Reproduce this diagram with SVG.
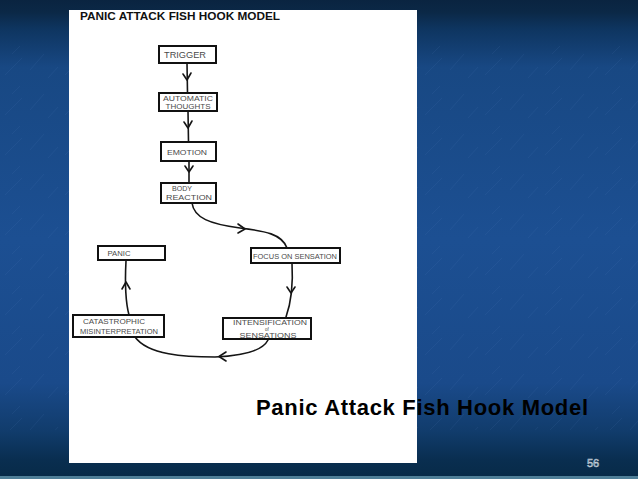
<svg xmlns="http://www.w3.org/2000/svg" width="638" height="479" viewBox="0 0 638 479">
  <defs>
    <linearGradient id="bg" x1="0" y1="0" x2="0" y2="1">
      <stop offset="0" stop-color="#0a2440"/>
      <stop offset="0.025" stop-color="#0b2846"/>
      <stop offset="0.06" stop-color="#0e3560"/>
      <stop offset="0.14" stop-color="#184883"/>
      <stop offset="0.5" stop-color="#1c4f92"/>
      <stop offset="0.8" stop-color="#1a4a8a"/>
      <stop offset="0.9" stop-color="#113c6c"/>
      <stop offset="0.96" stop-color="#092e50"/>
      <stop offset="1" stop-color="#072a47"/>
    </linearGradient>
    <pattern id="streaks" width="60" height="40" patternUnits="userSpaceOnUse">
      <path d="M5,35 L22,18 M30,30 L44,14 M48,38 L58,27 M12,14 L20,6" stroke="#5c86c4" stroke-width="1" opacity="0.35" fill="none"/>
    </pattern>
    <style>
      .box { fill: #ffffff; stroke: #111111; stroke-width: 2; }
      .lbl { font-family: "Liberation Sans", "DejaVu Sans", sans-serif; fill: #4a4a4a; text-anchor: middle; }
      .con { fill: none; stroke: #151515; stroke-width: 1.6; stroke-linecap: round; stroke-linejoin: round; }
    </style>
  </defs>

  <!-- slide background -->
  <rect x="0" y="0" width="638" height="479" fill="url(#bg)"/>
  <rect x="0" y="40" width="638" height="390" fill="url(#streaks)" opacity="0.3"/>
  <rect x="0" y="476" width="638" height="3" fill="#4f7f98"/>

  <!-- scanned page -->
  <rect x="69" y="10" width="348" height="453" fill="#ffffff"/>

  <!-- handwritten title -->
  <text x="80" y="20" font-family="Liberation Sans, sans-serif" font-weight="bold" font-size="10" fill="#111" textLength="200" lengthAdjust="spacingAndGlyphs">PANIC ATTACK  FISH HOOK MODEL</text>

  <g id="connectors">
    <path class="con" d="M187,63 L187.5,93"/>
    <path class="con" d="M183,74 L187,80 L191,73"/>
    <path class="con" d="M188,111 L188.5,142"/>
    <path class="con" d="M184,122 L188,128 L192,121"/>
    <path class="con" d="M189,161 L189,183"/>
    <path class="con" d="M185,166 L189,172 L193,166"/>
    <path class="con" d="M192,203 C194,218 210,224 240,228 C265,231 282,234 287,248"/>
    <path class="con" d="M238,224 L245,229 L238,233"/>
    <path class="con" d="M292,263 C293,280 292,300 286,317"/>
    <path class="con" d="M287,287 L291,293 L295,287"/>
    <path class="con" d="M268,340 C262,352 240,356 215,357 C185,357 148,355 135,337"/>
    <path class="con" d="M226,352 L219,356.5 L226,361"/>
    <path class="con" d="M129,315 C125,300 125,280 126,261"/>
    <path class="con" d="M122,289 L126,282 L130,289"/>
  </g>

  <g id="trigger">
    <rect class="box" x="159" y="46" width="57" height="17"/>
    <text class="lbl" x="185" y="58" font-size="8.5" textLength="42" lengthAdjust="spacingAndGlyphs">TRIGGER</text>
  </g>
  <g id="automatic-thoughts">
    <rect class="box" x="159" y="93" width="58" height="18"/>
    <text class="lbl" x="188" y="101" font-size="7" textLength="50" lengthAdjust="spacingAndGlyphs">AUTOMATIC</text>
    <text class="lbl" x="188" y="109" font-size="7" textLength="45" lengthAdjust="spacingAndGlyphs">THOUGHTS</text>
  </g>
  <g id="emotion">
    <rect class="box" x="161" y="142" width="55" height="19"/>
    <text class="lbl" x="187" y="155" font-size="8" textLength="40" lengthAdjust="spacingAndGlyphs">EMOTION</text>
  </g>
  <g id="body-reaction">
    <rect class="box" x="161" y="183" width="55" height="20"/>
    <text class="lbl" x="182" y="191" font-size="7" textLength="20" lengthAdjust="spacingAndGlyphs">BODY</text>
    <text class="lbl" x="189" y="200" font-size="7.5" textLength="46" lengthAdjust="spacingAndGlyphs">REACTION</text>
  </g>
  <g id="panic">
    <rect class="box" x="98" y="246" width="67" height="14"/>
    <text class="lbl" x="119" y="256" font-size="8" textLength="23" lengthAdjust="spacingAndGlyphs">PANIC</text>
  </g>
  <g id="focus-on-sensation">
    <rect class="box" x="251" y="248" width="89" height="15"/>
    <text class="lbl" x="295" y="258.5" font-size="7" textLength="84" lengthAdjust="spacingAndGlyphs">FOCUS ON SENSATION</text>
  </g>
  <g id="catastrophic-misinterpretation">
    <rect class="box" x="73" y="315" width="91" height="22"/>
    <text class="lbl" x="114" y="323.5" font-size="7" textLength="62" lengthAdjust="spacingAndGlyphs">CATASTROPHIC</text>
    <text class="lbl" x="119" y="334" font-size="7" textLength="78" lengthAdjust="spacingAndGlyphs">MISINTERPRETATION</text>
  </g>
  <g id="intensification-of-sensations">
    <rect class="box" x="223" y="318" width="88" height="21"/>
    <text class="lbl" x="270" y="324.5" font-size="6.5" textLength="74" lengthAdjust="spacingAndGlyphs">INTENSIFICATION</text>
    <text class="lbl" x="267" y="330.5" font-size="4.5">of</text>
    <text class="lbl" x="268" y="337.5" font-size="6.5" textLength="57" lengthAdjust="spacingAndGlyphs">SENSATIONS</text>
  </g>

  <!-- slide caption -->
  <text x="256" y="415" font-family="Liberation Sans, Arial, sans-serif" font-weight="bold" font-size="22" fill="#000000" textLength="332" lengthAdjust="spacing">Panic Attack Fish Hook Model</text>
  <text x="587" y="467" font-family="Liberation Sans, Arial, sans-serif" font-size="11" fill="#2a4a68" stroke="#c8d2dc" stroke-width="0.6">56</text>
</svg>
